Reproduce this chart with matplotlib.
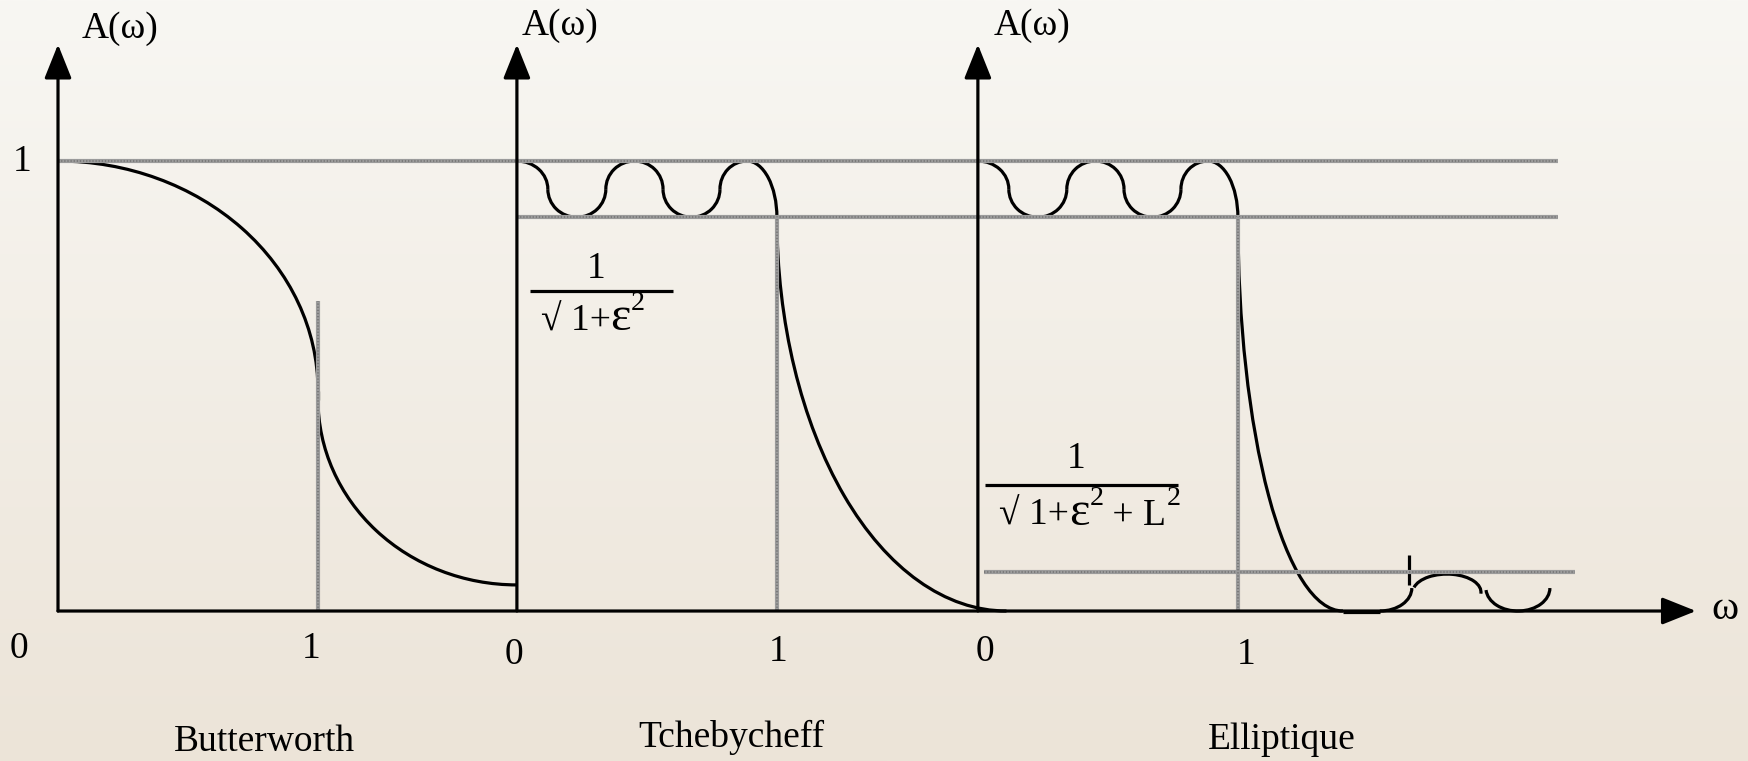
"""Amplitude responses of the three classic low-pass filters (schematic)."""
import numpy as np
import matplotlib
matplotlib.use("Agg")
import matplotlib.pyplot as plt
from matplotlib.patches import Arc

plt.rcParams["font.family"] = ["Liberation Serif", "DejaVu Serif"]

# --- values (ω in units of the cutoff, A(ω) with max 1) ---
panel_x0 = [0.0, 1.765, 3.538]          # where each panel's A axis sits on the shared ω axis
panel_names = ["Butterworth", "Tchebycheff", "Elliptique"]

level_one = 1.0
ripple_low = 0.875                      # 1/sqrt(1+eps^2)
stop_level = 0.087                      # 1/sqrt(1+eps^2+L^2)
cutoff = 1.0

# Butterworth: two quarter ellipses that meet (vertical) at ω = 1
butter_knee = [0.49, 0.47]              # A at end of upper arc / start of lower arc
butter_end = 0.058                      # A reached at the next panel's axis
butter_mark_top = 0.69                  # top of the gray marker at ω = 1

# equiripple passband: ω where the ripple crosses mid level, then the last peak
ripple_cross = [0.119, 0.342, 0.562, 0.781]
ripple_last_peak = 0.885

cheb_tail_end = 1.883                   # Tchebycheff decay reaches 0 here

ell_fall_end = 1.404                    # elliptic decay reaches 0 here
ell_flat_end = 1.546
ell_rise = [1.669, 0.051]               # rising quarter: right end, height
ell_tick = [1.659, 0.058, 0.124]        # small vertical stroke: ω, A bottom, A top
ell_hump = [1.804, 0.042, 0.131, 0.040]  # centre ω, centre A, half width, half height
ell_bowl = [2.077, 0.051, 0.123, 0.051]

LW = 2.3
GW = 3.0
GRAY = "#9c9c9c"
FS = 27

fig = plt.figure(figsize=(17.48, 7.61), dpi=100)
ax = fig.add_axes([0, 0, 1, 1])
xlim = (-0.2231, 6.5)
ylim = (-0.3333, 1.3578)

# background: light vertical gradient
top = np.array([248, 247, 243]) / 255
bottom = np.array([236, 228, 216]) / 255
t = np.linspace(0, 1, 256)[:, None, None]
ax.imshow(top * (1 - t) + bottom * t, extent=[*xlim, *ylim], aspect="auto",
          origin="upper", zorder=0)
ax.set_xlim(*xlim)
ax.set_ylim(*ylim)
ax.axis("off")


def arc(cx, cy, a, b, t1, t2):
    # t1, t2 are parametric angles; Arc expects geometric ones
    g1, g2 = [np.degrees(np.arctan2(b * np.sin(np.radians(v)), a * np.cos(np.radians(v))))
              for v in (t1, t2)]
    if g2 <= g1:
        g2 += 360
    ax.add_patch(Arc((cx, cy), 2 * a, 2 * b, theta1=g1, theta2=g2,
                     lw=LW, color="black", zorder=3))


def line(xs, ys, gray=False):
    if gray:
        ax.plot(xs, ys, color=GRAY, lw=GW, zorder=4, solid_capstyle="butt")
        ax.plot(xs, ys, color="#7a7a7a", lw=GW * 0.5, zorder=4,
                linestyle=(0, (0.6, 0.9)))
    else:
        ax.plot(xs, ys, color="black", lw=LW, zorder=3, solid_capstyle="butt")


def ripple(x0):
    mid = (level_one + ripple_low) / 2
    half = (level_one - ripple_low) / 2
    c = ripple_cross
    arc(x0, mid, c[0], half, 0, 90)
    for i in range(len(c) - 1):
        cx = x0 + (c[i] + c[i + 1]) / 2
        a = (c[i + 1] - c[i]) / 2
        if i % 2 == 0:
            arc(cx, mid, a, half, 180, 360)
        else:
            arc(cx, mid, a, half, 0, 180)
    arc(x0 + ripple_last_peak, mid, ripple_last_peak - c[-1], half, 90, 180)
    arc(x0 + ripple_last_peak, ripple_low, cutoff - ripple_last_peak,
        level_one - ripple_low, 0, 90)


def arrow(x0, y0, x1, y1):
    ax.annotate("", xy=(x1, y1), xytext=(x0, y0),
                arrowprops=dict(arrowstyle="-|>,head_length=1.05,head_width=0.42",
                                mutation_scale=20, lw=LW, color="black",
                                shrinkA=0, shrinkB=0), zorder=5)


# axes
arrow(0, 0, 6.30, 0)
for x0 in panel_x0:
    arrow(x0, 0, x0, 1.259)

# gray guide lines
line([0, 5.77], [level_one, level_one], gray=True)
line([panel_x0[1], 5.77], [ripple_low, ripple_low], gray=True)
line([3.56, 5.835], [stop_level, stop_level], gray=True)
line([cutoff, cutoff], [0, butter_mark_top], gray=True)
line([panel_x0[1] + cutoff] * 2, [0, ripple_low], gray=True)
line([panel_x0[2] + cutoff] * 2, [0, ripple_low], gray=True)

# Butterworth
arc(0, butter_knee[0], cutoff, level_one - butter_knee[0], 0, 90)
line([cutoff, cutoff], butter_knee)
arc(panel_x0[1], butter_knee[1], panel_x0[1] - cutoff, butter_knee[1] - butter_end, 180, 270)

# Tchebycheff
x0 = panel_x0[1]
ripple(x0)
arc(x0 + cheb_tail_end, ripple_low, cheb_tail_end - cutoff, ripple_low, 180, 270)

# Elliptic
x0 = panel_x0[2]
ripple(x0)
arc(x0 + ell_fall_end, ripple_low, ell_fall_end - cutoff, ripple_low, 180, 270)
line([x0 + ell_fall_end, x0 + ell_flat_end], [-0.003, -0.003])
arc(x0 + ell_flat_end, ell_rise[1], ell_rise[0] - ell_flat_end, ell_rise[1], 270, 360)
line([x0 + ell_tick[0]] * 2, ell_tick[1:])
arc(x0 + ell_hump[0], ell_hump[1], ell_hump[2], ell_hump[3], -5, 165)
arc(x0 + ell_bowl[0], ell_bowl[1], ell_bowl[2], ell_bowl[3], 185, 360)

# labels
txt = dict(fontsize=FS, color="black", zorder=6)
ax.text(0.092, 1.273, "A(ω)", ha="left", va="baseline", **txt)
ax.text(1.782, 1.28, "A(ω)", ha="left", va="baseline", **txt)
ax.text(3.600, 1.28, "A(ω)", ha="left", va="baseline", **txt)
ax.text(-0.138, 0.978, "1", ha="center", va="baseline", **txt)
ax.text(6.412, -0.018, "ω", ha="center", va="baseline", fontsize=FS * 1.1, zorder=6)

tick_pos = [(-0.15, -0.105, "0"), (0.973, -0.105, "1"), (1.754, -0.117, "0"),
            (2.769, -0.112, "1"), (3.567, -0.112, "0"), (4.569, -0.117, "1")]
for x, y, s in tick_pos:
    ax.text(x, y, s, ha="center", va="baseline", **txt)

for x, y, s in zip([0.793, 2.59, 4.708], [-0.311, -0.302, -0.307], panel_names):
    ax.text(x, y, s, ha="center", va="baseline", **txt)


def chain(x, y, parts):
    # parts: list of (text, size factor, raise) drawn left to right on one baseline
    prev = None
    for s, k, up in parts:
        yy = y + up
        if prev is None:
            prev = ax.text(x, yy, s, ha="left", va="baseline", fontsize=FS * k, zorder=6)
        else:
            prev = ax.annotate(s, xy=(1, yy), xycoords=(prev, "data"), ha="left",
                               va="baseline", fontsize=FS * k, zorder=6)


SUP = (0.75, 0.045)

# fraction for the Tchebycheff ripple
x0 = panel_x0[1]
ax.text(x0 + 0.306, 0.74, "1", ha="center", va="baseline", **txt)
line([x0 + 0.05, x0 + 0.60], [0.711, 0.711])
chain(x0 + 0.091, 0.624, [("√ 1+", 1, 0), ("ε", 1.3, 0), ("2", *SUP)])

# fraction for the elliptic stopband
x0 = panel_x0[2]
ax.text(x0 + 0.377, 0.317, "1", ha="center", va="baseline", **txt)
line([x0 + 0.029, x0 + 0.769], [0.28, 0.28])
chain(x0 + 0.081, 0.191, [("√ 1+", 1, 0), ("ε", 1.3, 0), ("2", *SUP),
                          (" + L", 1, 0), ("2", *SUP)])

fig.savefig("out.png", dpi=100)
